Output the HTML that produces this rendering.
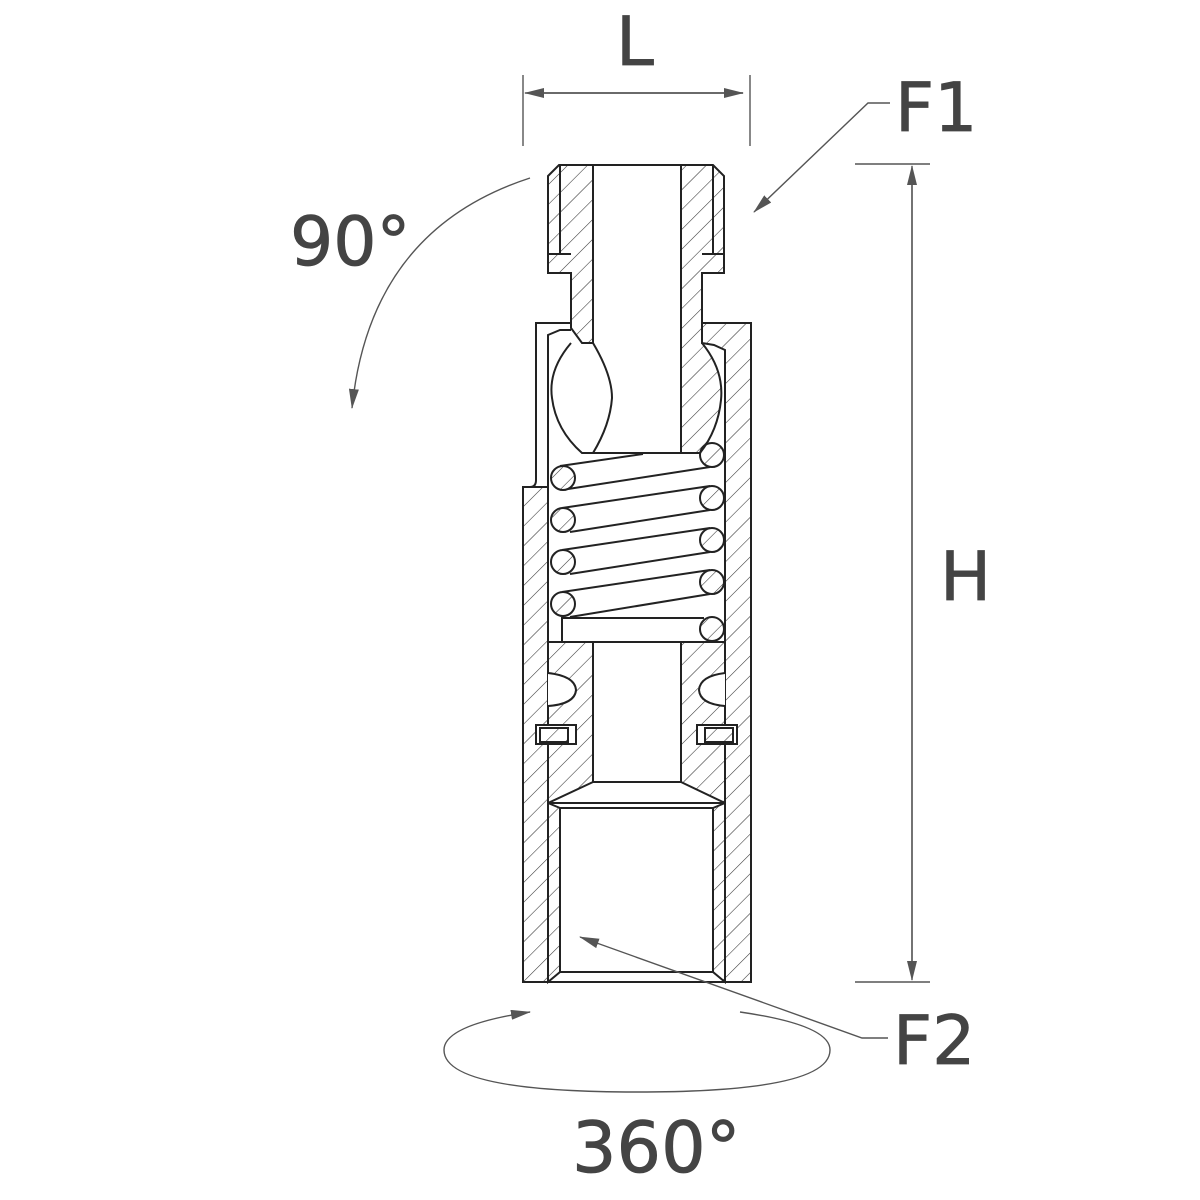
<!DOCTYPE html>
<html><head><meta charset="utf-8"><style>
html,body{margin:0;padding:0;background:#fff;}
svg{display:block;}
text{font-family:"DejaVu Sans","Liberation Sans",sans-serif;fill:#444;stroke:#444;stroke-width:0.8;}
</style></head><body>
<svg width="1200" height="1200" viewBox="0 0 1200 1200" xmlns="http://www.w3.org/2000/svg">
<defs>
<pattern id="h" patternUnits="userSpaceOnUse" width="14" height="14" patternTransform="rotate(45)">
<line x1="0" y1="0" x2="0" y2="14" stroke="#333" stroke-width="1.1"/>
</pattern>
<marker id="as" markerWidth="20" markerHeight="10" refX="19" refY="5" orient="auto" markerUnits="userSpaceOnUse"><path d="M0,0 L20,5 L0,10 Z" fill="#555"/></marker>
</defs>
<g stroke="#222" stroke-width="2" fill="none">
<!-- nipple hatched walls -->
<path d="M548,176 L559,165 L593,165 L593,343 L582,343 L571,328 L571,273 L548,273 Z" fill="url(#h)"/>
<path d="M681,165 L713,165 L724,176 L724,273 L702,273 L702,343 Q724,370 721,400 Q718,430 700,453 L681,453 Z" fill="url(#h)"/>
<line x1="559" y1="165" x2="713" y2="165"/>
<line x1="560" y1="165" x2="560" y2="254"/><line x1="548" y1="254" x2="571" y2="254"/>
<line x1="713" y1="165" x2="713" y2="254"/><line x1="702" y1="254" x2="724" y2="254"/>
<line x1="593" y1="165" x2="593" y2="343"/><line x1="681" y1="165" x2="681" y2="453"/>
<!-- ball -->
<path d="M571,343 Q548,370 552,398 Q556,430 582,453 L681,453" />
<path d="M593,343 Q612,375 612,398 Q610,425 593,453"/>
<!-- housing top -->
<path d="M702,323 L751,323 L751,982 L725,982 L725,350 L714,345 L702,343 Z" fill="url(#h)"/>
<path d="M571,323 L536,323 L536,480 Q536,487 530,487 L523,487"/>
<path d="M571,330 L560,330 L548,335 L548,642"/>
<!-- left lower wall -->
<path d="M523,487 L548,487 L548,982 L523,982 Z" fill="url(#h)"/>
<!-- spring -->
<g fill="url(#h)">
<circle cx="563" cy="478" r="12"/><circle cx="563" cy="520" r="12"/><circle cx="563" cy="562" r="12"/><circle cx="563" cy="604" r="12"/>
<circle cx="712" cy="455" r="12"/><circle cx="712" cy="498" r="12"/><circle cx="712" cy="540" r="12"/><circle cx="712" cy="582" r="12"/><circle cx="712" cy="629" r="12"/>
</g>
<line x1="560" y1="466" x2="643" y2="454"/><line x1="568" y1="489" x2="710" y2="467"/>
<line x1="562" y1="508" x2="710" y2="486"/><line x1="570" y1="532" x2="710" y2="510"/>
<line x1="562" y1="550" x2="710" y2="528"/><line x1="570" y1="574" x2="710" y2="552"/>
<line x1="562" y1="592" x2="710" y2="570"/><line x1="570" y1="617" x2="710" y2="594"/>
<path d="M562,617 L562,642 M562,618 L704,618"/>
<line x1="548" y1="642" x2="725" y2="642"/>
<!-- piston section -->
<path d="M548,642 L593,642 L593,782 L548,803 Z" fill="url(#h)"/>
<path d="M681,642 L725,642 L725,803 L681,782 Z" fill="url(#h)"/>
<line x1="593" y1="782" x2="681" y2="782"/>
<path d="M548,803 L725,803"/>
<path d="M548,673 Q575,676 576,690 Q575,704 548,706" fill="#fff"/>
<path d="M725,673 Q700,676 699,690 Q700,704 725,706" fill="#fff"/>
<rect x="536" y="725" width="40" height="19" fill="#fff"/><rect x="540" y="728" width="28" height="14" fill="url(#h)"/>
<rect x="697" y="725" width="40" height="19" fill="#fff"/><rect x="705" y="728" width="28" height="14" fill="url(#h)"/>
<!-- cup -->
<path d="M548,803 L560,808 L560,972 L548,982 Z" fill="url(#h)"/>
<path d="M725,803 L713,808 L713,972 L725,982 Z" fill="url(#h)"/>
<line x1="560" y1="808" x2="713" y2="808"/><line x1="560" y1="972" x2="713" y2="972"/>
<line x1="523" y1="982" x2="751" y2="982"/>
</g>
<!-- annotations -->
<g stroke="#555" stroke-width="1.4" fill="none">
<line x1="523" y1="75" x2="523" y2="146"/><line x1="750" y1="75" x2="750" y2="146"/>
<line x1="530" y1="93" x2="743" y2="93" marker-end="url(#as)"/>
<line x1="743" y1="93" x2="525" y2="93" marker-end="url(#as)"/>
<polyline points="890,103 868,103 754,212" marker-end="url(#as)"/>
<line x1="855" y1="164" x2="930" y2="164"/><line x1="855" y1="982" x2="930" y2="982"/>
<line x1="912" y1="170" x2="912" y2="980" marker-end="url(#as)"/>
<line x1="912" y1="976" x2="912" y2="166" marker-end="url(#as)"/>
<path d="M530,178 Q370,230 352,408" marker-end="url(#as)"/>
<polyline points="888,1038 862,1038 580,937" marker-end="url(#as)"/>
<path d="M740,1012 Q830,1025 830,1050 Q830,1092 637,1092 Q444,1092 444,1050 Q444,1025 530,1012" marker-end="url(#as)"/>
</g>
<text x="616" y="65" font-size="68">L</text>
<text x="895" y="131" font-size="68">F1</text>
<text x="290" y="265" font-size="68">90°</text>
<text x="940" y="600" font-size="68">H</text>
<text x="893" y="1064" font-size="68">F2</text>
<text x="572" y="1172" font-size="70">360°</text>
</svg>
</body></html>
